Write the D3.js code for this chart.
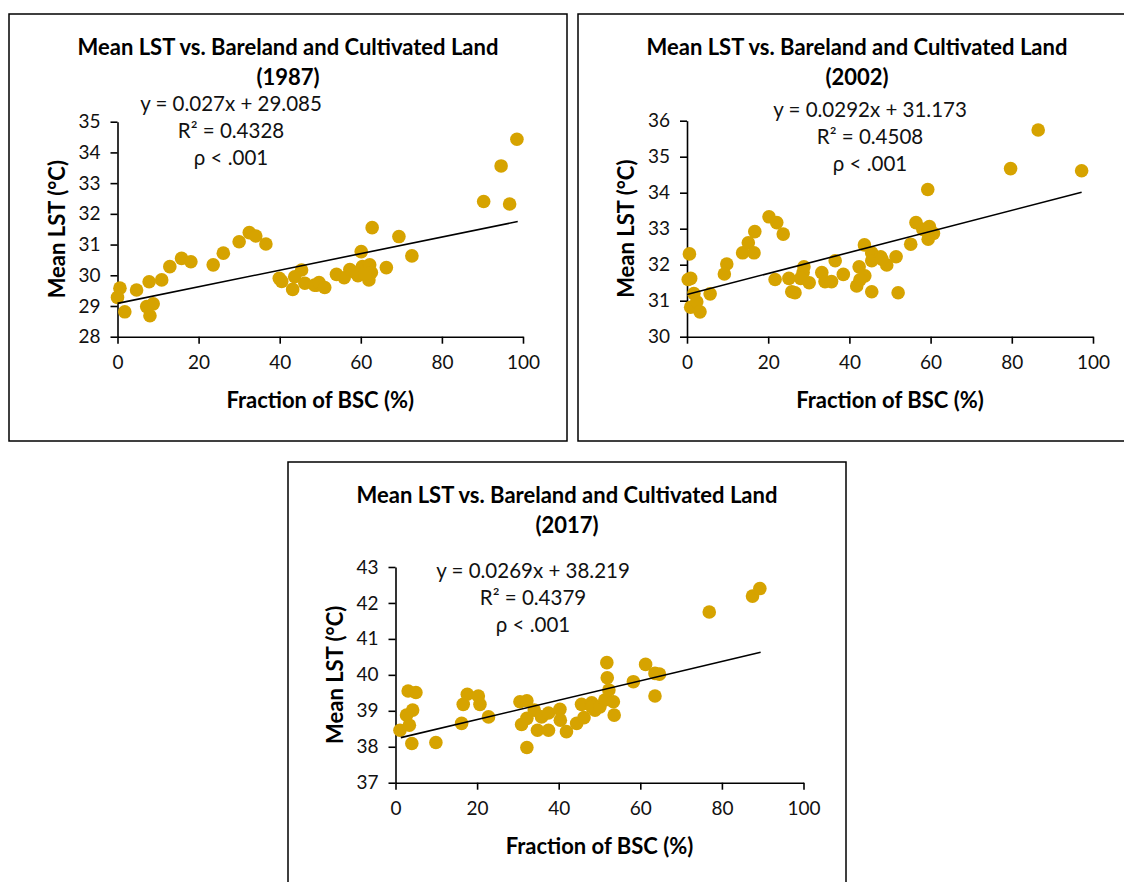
<!DOCTYPE html>
<html lang="en">
<head>
    <meta charset="UTF-8">
    <title>mean-lst-bsc</title>
    <style>
        body {
            margin: 0;
            background: #fff;
            font-family: Lato, "Open Sans", sans-serif;
        }
        .tick text {
            font-family: Lato, sans-serif;
        }
    </style>
    <script src="https://d3js.org/d3.v7.min.js"></script>
</head>
<body>

<script>

    // --- data ---
    let years = ["1987", "2002", "2017"]

    let bsc1987 = [0.6, 0, 1.8, 4.7, 7.8, 7.2, 8.8, 8.0, 10.9, 12.9, 15.8, 18.1, 23.6, 26.1, 30.0, 32.5, 34.1, 36.6,
        39.9, 40.5, 43.2, 45.4, 43.7, 46.2, 49.1, 48.6, 49.7, 51.1, 54.0, 55.9, 57.3, 59.3, 60.4, 62.2, 62.6, 62.0,
        58.5, 61.0, 60.1, 62.8, 66.3, 69.4, 72.6, 90.3, 96.7, 94.6, 98.5]
    let lst1987 = [29.58, 29.28, 28.81, 29.52, 29.79, 28.98, 29.07, 28.68, 29.85, 30.28, 30.55, 30.44, 30.34, 30.72,
        31.09, 31.39, 31.28, 31.02, 29.90, 29.80, 29.54, 30.17, 29.95, 29.74, 29.68, 29.68, 29.76, 29.60, 30.03, 29.92,
        30.19, 29.99, 30.28, 30.34, 30.09, 29.85, 30.10, 30.05, 30.77, 31.55, 30.25, 31.26, 30.63, 32.40, 32.32, 33.56,
        34.43]

    let bsc2002 = [0.6, 0.3, 0.9, 1.7, 0.9, 2.4, 3.2, 5.7, 9.8, 9.2, 13.7, 15.1, 16.5, 16.7, 20.2, 22.1, 23.7, 21.7,
        25.1, 25.8, 26.6, 28.6, 28.8, 28.0, 30.1, 33.2, 34.0, 35.6, 36.5, 38.5, 41.8, 42.4, 43.8, 42.6, 43.7, 45.5,
        45.5, 45.5, 47.7, 49.2, 48.0, 51.5, 52.0, 55.1, 56.4, 58.1, 59.7, 60.7, 59.4, 59.3, 79.7, 86.5, 97.2]
    let lst2002 = [32.30, 31.59, 31.62, 31.20, 30.82, 30.97, 30.69, 31.19, 32.02, 31.74, 32.33, 32.61, 32.33, 32.92,
        33.33, 33.17, 32.85, 31.59, 31.62, 31.25, 31.22, 31.78, 31.94, 31.62, 31.50, 31.78, 31.53, 31.53, 32.11, 31.73,
        31.41, 31.94, 31.69, 31.58, 32.55, 32.33, 31.25, 32.11, 32.22, 31.99, 32.15, 32.22, 31.22, 32.57, 33.17, 32.98,
        33.06, 32.87, 32.71, 34.09, 34.67, 35.74, 34.61]

    let bsc2017 = [1.1, 3.1, 5.0, 4.2, 2.7, 3.4, 4.0, 9.9, 16.2, 16.6, 17.6, 20.3, 20.7, 22.8, 30.5, 32.2, 30.9, 32.2,
        32.2, 34.0, 34.8, 35.8, 37.5, 37.5, 40.3, 40.4, 41.9, 44.4, 45.6, 46.2, 48.1, 48.9, 48.1, 50.1, 51.3, 53.4,
        53.6, 51.8, 51.9, 52.3, 58.3, 61.3, 63.6, 64.7, 63.6, 76.9, 87.5, 89.3]
    let lst2017 = [38.46, 39.55, 39.51, 39.02, 38.88, 38.60, 38.09, 38.12, 38.65, 39.18, 39.46, 39.41, 39.18, 38.83,
        39.25, 39.28, 38.62, 38.79, 37.98, 39.02, 38.46, 38.83, 38.94, 38.46, 39.04, 38.74, 38.42, 38.65, 39.18, 38.81,
        39.22, 39.02, 39.11, 39.11, 39.30, 39.25, 38.88, 40.34, 39.92, 39.58, 39.81, 40.29, 40.04, 40.02, 39.41, 41.75,
        42.19, 42.40]

    // trend lines: slope, intercept, x range of the drawn line
    let slopes = [0.027, 0.0292, 0.0269]
    let intercepts = [29.085, 31.173, 38.219]
    let fitFrom = [0, 0, 1.3]
    let fitTo = [98.7, 97.2, 89.5]
    let r2Labels = ["0.4328", "0.4508", "0.4379"]
    let eqLabels = ["y = 0.027x + 29.085", "y = 0.0292x + 31.173", "y = 0.0269x + 38.219"]

    let xTicks = [0, 20, 40, 60, 80, 100]
    let yTicks1987 = [28, 29, 30, 31, 32, 33, 34, 35]
    let yTicks2002 = [30, 31, 32, 33, 34, 35, 36]
    let yTicks2017 = [37, 38, 39, 40, 41, 42, 43]

    // --- style ---
    let dotColor = "#d6a300"
    let dotRadius = 6.8
    let width = 1124
    let height = 882

    let svg = d3.select("body").append("svg")
        .attr("width", width)
        .attr("height", height)

    svg.append("rect")
        .attr("width", "100%")
        .attr("height", "100%")
        .attr("fill", "white")

    // frame position + plot area inside the frame
    let panels = [
        {year: years[0], fx: 9, fy: 14, xs: bsc1987, ys: lst1987, yTicks: yTicks1987,
            plot: [117.5, 523, 121.7, 336.7], eqX: 231, eqY: 104, k: 0},
        {year: years[1], fx: 578, fy: 14, xs: bsc2002, ys: lst2002, yTicks: yTicks2002,
            plot: [687, 1093, 120.7, 336.7], eqX: 870, eqY: 110, k: 1},
        {year: years[2], fx: 288, fy: 462, xs: bsc2017, ys: lst2017, yTicks: yTicks2017,
            plot: [395.5, 803.5, 567, 782.7], eqX: 533, eqY: 571, k: 2}
    ]

    panels.forEach(drawPanel)

    function drawPanel(p) {
        let g = svg.append("g")
        let fw = 558, fh = 427

        g.append("rect")
            .attr("x", p.fx)
            .attr("y", p.fy)
            .attr("width", fw)
            .attr("height", fh)
            .attr("fill", "white")
            .attr("stroke", "#000")
            .attr("stroke-width", 1.5)

        let cx = p.fx + fw / 2

        // title (two lines)
        let title = g.append("text")
            .attr("text-anchor", "middle")
            .attr("font-weight", "bold")
            .attr("font-size", "22px")
            .attr("fill", "#000")
        title.append("tspan").attr("x", cx).attr("y", p.fy + 41).text("Mean LST vs. Bareland and Cultivated Land")
        title.append("tspan").attr("x", cx).attr("y", p.fy + 71).text("(" + p.year + ")")

        let x = d3.scaleLinear().domain([0, 100]).range([p.plot[0], p.plot[1]])
        let yd = d3.extent(p.yTicks)
        let y = d3.scaleLinear().domain(yd).range([p.plot[3], p.plot[2]])

        let xAxis = g.append("g")
            .attr("transform", "translate(0," + p.plot[3] + ")")
            .call(d3.axisBottom(x).tickValues(xTicks).tickFormat(d3.format("d"))
                .tickSize(7).tickSizeOuter(0).tickPadding(12))
        let yAxis = g.append("g")
            .attr("transform", "translate(" + p.plot[0] + ",0)")
            .call(d3.axisLeft(y).tickValues(p.yTicks).tickFormat(d3.format("d"))
                .tickSize(7).tickSizeOuter(0).tickPadding(10))

        ;[xAxis, yAxis].forEach(function (a) {
            a.select(".domain").attr("stroke", "#000").attr("stroke-width", 1.6)
            a.selectAll(".tick line").attr("stroke", "#000").attr("stroke-width", 1.6)
            a.selectAll(".tick text").attr("font-size", "19px").attr("fill", "#111")
        })

        // axis titles
        g.append("text")
            .attr("x", (p.plot[0] + p.plot[1]) / 2)
            .attr("y", p.plot[3] + 71)
            .attr("text-anchor", "middle")
            .attr("font-weight", "bold")
            .attr("font-size", "22px")
            .text("Fraction of BSC (%)")

        g.append("text")
            .attr("transform", "translate(" + (p.plot[0] - 53) + "," + ((p.plot[2] + p.plot[3]) / 2) + ") rotate(-90)")
            .attr("text-anchor", "middle")
            .attr("font-weight", "bold")
            .attr("font-size", "22px")
            .text("Mean LST (\u00B0C)")

        // points
        let pts = p.xs.map(function (d, i) {
            return {x: d, y: p.ys[i]}
        })
        g.append("g")
            .selectAll("circle")
            .data(pts)
            .enter()
            .append("circle")
            .attr("cx", function (d) { return x(d.x) })
            .attr("cy", function (d) { return y(d.y) })
            .attr("r", dotRadius)
            .attr("fill", dotColor)

        // linear trend line
        let k = p.k
        let line = d3.line()
            .x(function (d) { return x(d) })
            .y(function (d) { return y(slopes[k] * d + intercepts[k]) })
        g.append("path")
            .datum([fitFrom[k], fitTo[k]])
            .attr("d", line)
            .attr("fill", "none")
            .attr("stroke", "#000")
            .attr("stroke-width", 1.6)

        // equation labels
        let eq = g.append("text")
            .attr("text-anchor", "middle")
            .attr("font-size", "20.5px")
            .attr("fill", "#111")
        eq.append("tspan").attr("x", p.eqX).attr("y", p.eqY + 7).text(eqLabels[k])
        eq.append("tspan").attr("x", p.eqX).attr("y", p.eqY + 34).text("R\u00B2 = " + r2Labels[k])
        eq.append("tspan").attr("x", p.eqX).attr("y", p.eqY + 61).text("\u03C1 < .001")
    }

</script>

</body>
</html>
